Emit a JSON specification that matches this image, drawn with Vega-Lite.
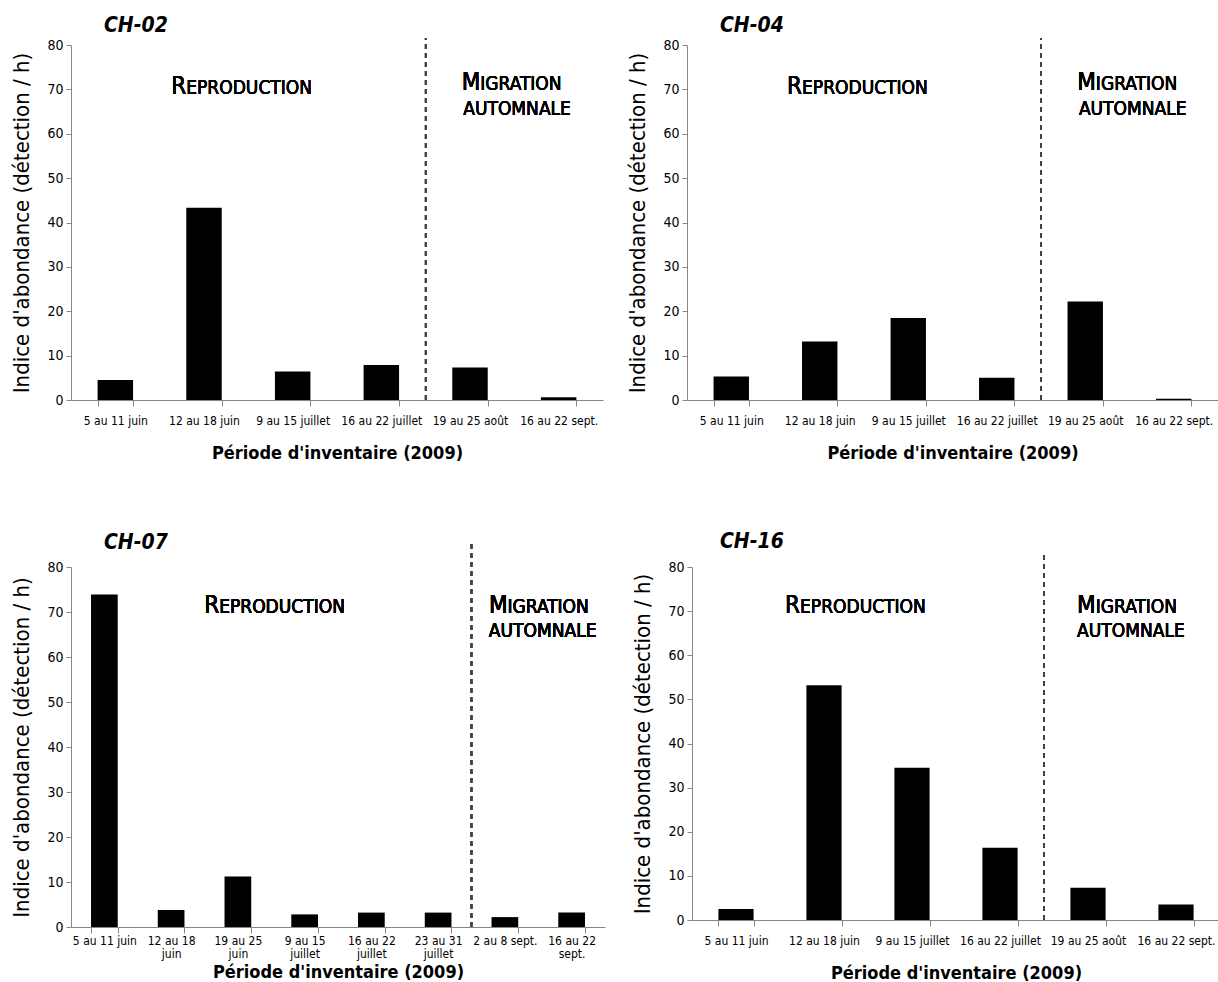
{
  "$schema": "https://vega.github.io/schema/vega-lite/v6.json",
  "background": "white",
  "padding": {"left": 10, "top": 15, "right": 0, "bottom": 0},
  "config": {
    "view": {"stroke": null},
    "font": "DejaVu Sans Condensed, Liberation Sans Narrow, sans-serif",
    "axis": {"grid": false, "domainColor": "#868686", "tickColor": "#868686", "labelColor": "#000000", "titleColor": "#000000", "labelFont": "DejaVu Sans Condensed, Liberation Sans Narrow, sans-serif", "titleFont": "DejaVu Sans Condensed, Liberation Sans Narrow, sans-serif"},
    "axisX": {"tickBand": "extent", "labelAngle": 0, "labelFontSize": 12, "tickSize": 6, "labelPadding": 9, "titleFontSize": 18, "titleFontWeight": "bold", "titlePadding": 18, "labelOverlap": false, "labelLimit": 200},
    "axisY": {"values": [0, 10, 20, 30, 40, 50, 60, 70, 80], "tickSize": 5, "labelFontSize": 14, "labelPadding": 3, "titleFontSize": 22, "titleFontWeight": "normal", "titlePadding": 13},
    "title": {"anchor": "start", "frame": "group", "fontSize": 21, "fontStyle": "italic", "fontWeight": "bold", "color": "#000000", "font": "DejaVu Sans Condensed, Liberation Sans Narrow, sans-serif"},
    "text": {"font": "DejaVu Sans Condensed, Liberation Sans Narrow, sans-serif", "color": "#000000", "baseline": "alphabetic"}
  },
  "datasets": {
    "ch02": [
      {"periode": "5 au 11 juin", "valeur": 4.5},
      {"periode": "12 au 18 juin", "valeur": 43.3},
      {"periode": "9 au 15 juillet", "valeur": 6.4},
      {"periode": "16 au 22 juillet", "valeur": 7.9},
      {"periode": "19 au 25 août", "valeur": 7.3},
      {"periode": "16 au 22 sept.", "valeur": 0.6}
    ],
    "ch04": [
      {"periode": "5 au 11 juin", "valeur": 5.3},
      {"periode": "12 au 18 juin", "valeur": 13.2},
      {"periode": "9 au 15 juillet", "valeur": 18.5},
      {"periode": "16 au 22 juillet", "valeur": 5.0},
      {"periode": "19 au 25 août", "valeur": 22.2},
      {"periode": "16 au 22 sept.", "valeur": 0.3}
    ],
    "ch07": [
      {"periode": "5 au 11 juin", "valeur": 73.9},
      {"periode": "12 au 18 juin", "valeur": 3.8},
      {"periode": "19 au 25 juin", "valeur": 11.2},
      {"periode": "9 au 15 juillet", "valeur": 2.8},
      {"periode": "16 au 22 juillet", "valeur": 3.2},
      {"periode": "23 au 31 juillet", "valeur": 3.2},
      {"periode": "2 au 8 sept.", "valeur": 2.2},
      {"periode": "16 au 22 sept.", "valeur": 3.2}
    ],
    "ch16": [
      {"periode": "5 au 11 juin", "valeur": 2.5},
      {"periode": "12 au 18 juin", "valeur": 53.2},
      {"periode": "9 au 15 juillet", "valeur": 34.5},
      {"periode": "16 au 22 juillet", "valeur": 16.4},
      {"periode": "19 au 25 août", "valeur": 7.3},
      {"periode": "16 au 22 sept.", "valeur": 3.5}
    ]
  },
  "spacing": 69,
  "vconcat": [
    {
      "spacing": 23,
      "hconcat": [
        {
          "width": 532, "height": 355,
          "title": {"text": "CH-02", "dx": 33, "offset": 1},
          "data": {"name": "ch02"},
          "encoding": {
            "x": {"field": "periode", "type": "nominal", "sort": null, "scale": {"paddingInner": 0.6, "paddingOuter": 0.3}, "title": "Période d'inventaire (2009)"},
            "y": {"field": "valeur", "type": "quantitative", "scale": {"domain": [0, 80]}, "title": "Indice d'abondance (détection / h)"}
          },
          "layer": [
            {"mark": {"type": "bar", "color": "#000000"}},
            {"mark": {"type": "rule", "color": "#404040", "strokeDash": [5, 4], "strokeWidth": 1.5}, "encoding": {"x": {"datum": "19 au 25 août", "bandPosition": -0.75}, "y": {"datum": 0}, "y2": {"datum": 81.6}}},
            {"mark": {"type": "text", "align": "right", "fontSize": 24}, "encoding": {"x": {"datum": "12 au 18 juin", "bandPosition": 0}, "y": {"datum": 69.0}, "text": {"value": "R"}}},
            {"mark": {"type": "text", "align": "left", "fontSize": 19}, "encoding": {"x": {"datum": "12 au 18 juin", "bandPosition": 0}, "y": {"datum": 69.0}, "text": {"value": "EPRODUCTION"}}},
            {"mark": {"type": "text", "align": "right", "fontSize": 24}, "encoding": {"x": {"datum": "19 au 25 août", "bandPosition": 0.79}, "y": {"datum": 69.8}, "text": {"value": "M"}}},
            {"mark": {"type": "text", "align": "left", "fontSize": 19}, "encoding": {"x": {"datum": "19 au 25 août", "bandPosition": 0.79}, "y": {"datum": 69.8}, "text": {"value": "IGRATION"}}},
            {"mark": {"type": "text", "align": "left", "fontSize": 19}, "encoding": {"x": {"datum": "19 au 25 août", "bandPosition": 0.31}, "y": {"datum": 64.2}, "text": {"value": "AUTOMNALE"}}}
          ]
        },
        {
          "width": 531, "height": 355,
          "title": {"text": "CH-04", "dx": 33, "offset": 1},
          "data": {"name": "ch04"},
          "encoding": {
            "x": {"field": "periode", "type": "nominal", "sort": null, "scale": {"paddingInner": 0.6, "paddingOuter": 0.3}, "title": "Période d'inventaire (2009)"},
            "y": {"field": "valeur", "type": "quantitative", "scale": {"domain": [0, 80]}, "title": "Indice d'abondance (détection / h)"}
          },
          "layer": [
            {"mark": {"type": "bar", "color": "#000000"}},
            {"mark": {"type": "rule", "color": "#404040", "strokeDash": [5, 4], "strokeWidth": 1.5}, "encoding": {"x": {"datum": "19 au 25 août", "bandPosition": -0.75}, "y": {"datum": 0}, "y2": {"datum": 81.6}}},
            {"mark": {"type": "text", "align": "right", "fontSize": 24}, "encoding": {"x": {"datum": "12 au 18 juin", "bandPosition": 0}, "y": {"datum": 69.0}, "text": {"value": "R"}}},
            {"mark": {"type": "text", "align": "left", "fontSize": 19}, "encoding": {"x": {"datum": "12 au 18 juin", "bandPosition": 0}, "y": {"datum": 69.0}, "text": {"value": "EPRODUCTION"}}},
            {"mark": {"type": "text", "align": "right", "fontSize": 24}, "encoding": {"x": {"datum": "19 au 25 août", "bandPosition": 0.8}, "y": {"datum": 69.8}, "text": {"value": "M"}}},
            {"mark": {"type": "text", "align": "left", "fontSize": 19}, "encoding": {"x": {"datum": "19 au 25 août", "bandPosition": 0.8}, "y": {"datum": 69.8}, "text": {"value": "IGRATION"}}},
            {"mark": {"type": "text", "align": "left", "fontSize": 19}, "encoding": {"x": {"datum": "19 au 25 août", "bandPosition": 0.32}, "y": {"datum": 64.2}, "text": {"value": "AUTOMNALE"}}}
          ]
        }
      ]
    },
    {
      "spacing": 26,
      "hconcat": [
        {
          "width": 534, "height": 360,
          "title": {"text": "CH-07", "dx": 33, "offset": -13},
          "data": {"name": "ch07"},
          "encoding": {
            "x": {"field": "periode", "type": "nominal", "sort": null, "scale": {"paddingInner": 0.6, "paddingOuter": 0.3}, "title": "Période d'inventaire (2009)",
                  "axis": {"labelLineHeight": 13, "labelPadding": 2, "titlePadding": 4, "labelExpr": "(datum.label == '5 au 11 juin' || datum.label == '2 au 8 sept.') ? datum.label : [substring(datum.label, 0, lastindexof(datum.label, ' ')), substring(datum.label, lastindexof(datum.label, ' ') + 1)]"}},
            "y": {"field": "valeur", "type": "quantitative", "scale": {"domain": [0, 80]}, "title": "Indice d'abondance (détection / h)"}
          },
          "layer": [
            {"mark": {"type": "bar", "color": "#000000"}},
            {"mark": {"type": "rule", "color": "#404040", "strokeDash": [5, 4], "strokeWidth": 1.5}, "encoding": {"x": {"datum": "2 au 8 sept.", "bandPosition": -0.75}, "y": {"datum": 0}, "y2": {"datum": 85.9}}},
            {"mark": {"type": "text", "align": "right", "fontSize": 24}, "encoding": {"x": {"datum": "19 au 25 juin", "bandPosition": -0.2}, "y": {"datum": 69.8}, "text": {"value": "R"}}},
            {"mark": {"type": "text", "align": "left", "fontSize": 19}, "encoding": {"x": {"datum": "19 au 25 juin", "bandPosition": -0.2}, "y": {"datum": 69.8}, "text": {"value": "EPRODUCTION"}}},
            {"mark": {"type": "text", "align": "right", "fontSize": 24}, "encoding": {"x": {"datum": "2 au 8 sept.", "bandPosition": 0.6}, "y": {"datum": 69.8}, "text": {"value": "M"}}},
            {"mark": {"type": "text", "align": "left", "fontSize": 19}, "encoding": {"x": {"datum": "2 au 8 sept.", "bandPosition": 0.6}, "y": {"datum": 69.8}, "text": {"value": "IGRATION"}}},
            {"mark": {"type": "text", "align": "left", "fontSize": 19}, "encoding": {"x": {"datum": "2 au 8 sept.", "bandPosition": -0.1}, "y": {"datum": 64.5}, "text": {"value": "AUTOMNALE"}}}
          ]
        },
        {
          "width": 528, "height": 353,
          "title": {"text": "CH-16", "dx": 28, "offset": 2},
          "data": {"name": "ch16"},
          "encoding": {
            "x": {"field": "periode", "type": "nominal", "sort": null, "scale": {"paddingInner": 0.6, "paddingOuter": 0.3}, "title": "Période d'inventaire (2009)"},
            "y": {"field": "valeur", "type": "quantitative", "scale": {"domain": [0, 80]}, "title": "Indice d'abondance (détection / h)"}
          },
          "layer": [
            {"mark": {"type": "bar", "color": "#000000"}},
            {"mark": {"type": "rule", "color": "#404040", "strokeDash": [5, 4], "strokeWidth": 1.5}, "encoding": {"x": {"datum": "19 au 25 août", "bandPosition": -0.75}, "y": {"datum": 0}, "y2": {"datum": 82.7}}},
            {"mark": {"type": "text", "align": "right", "fontSize": 24}, "encoding": {"x": {"datum": "12 au 18 juin", "bandPosition": -0.18}, "y": {"datum": 69.6}, "text": {"value": "R"}}},
            {"mark": {"type": "text", "align": "left", "fontSize": 19}, "encoding": {"x": {"datum": "12 au 18 juin", "bandPosition": -0.18}, "y": {"datum": 69.6}, "text": {"value": "EPRODUCTION"}}},
            {"mark": {"type": "text", "align": "right", "fontSize": 24}, "encoding": {"x": {"datum": "19 au 25 août", "bandPosition": 0.72}, "y": {"datum": 69.6}, "text": {"value": "M"}}},
            {"mark": {"type": "text", "align": "left", "fontSize": 19}, "encoding": {"x": {"datum": "19 au 25 août", "bandPosition": 0.72}, "y": {"datum": 69.6}, "text": {"value": "IGRATION"}}},
            {"mark": {"type": "text", "align": "left", "fontSize": 19}, "encoding": {"x": {"datum": "19 au 25 août", "bandPosition": 0.19}, "y": {"datum": 64.1}, "text": {"value": "AUTOMNALE"}}}
          ]
        }
      ]
    }
  ]
}
